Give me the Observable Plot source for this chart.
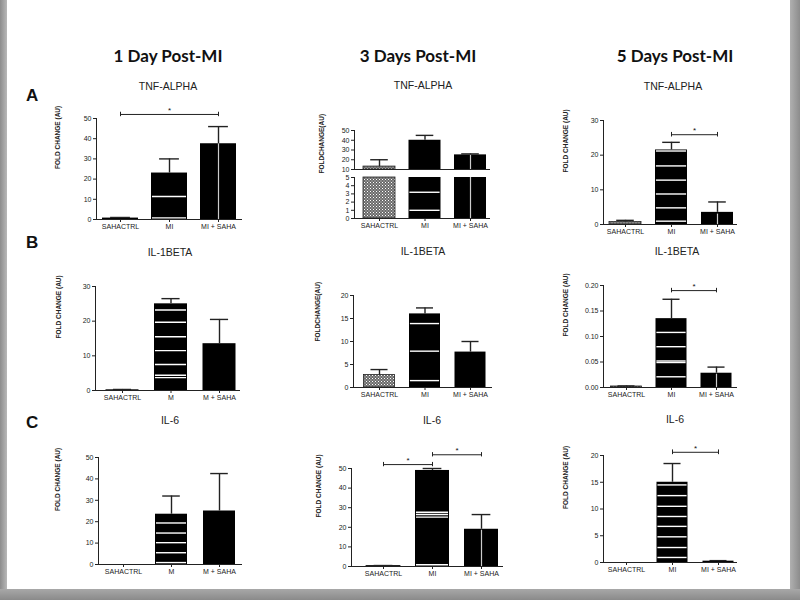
<!DOCTYPE html>
<html><head><meta charset="utf-8">
<script src="https://cdn.jsdelivr.net/npm/d3@7"></script>
<script src="https://cdn.jsdelivr.net/npm/@observablehq/plot@0.6"></script>
<style>
body{margin:0;width:800px;height:600px;position:relative;overflow:hidden;background:#fff;font-family:"Liberation Sans",Arial,sans-serif;}
.abs{position:absolute;white-space:nowrap;}
.head{font-family:Lato,"Open Sans",sans-serif;font-weight:700;font-size:17px;color:#111;transform:translate(-50%,-50%);}
.sub{font-size:10.5px;color:#222;transform:translate(-50%,-50%);}
.letter{font-weight:700;font-size:17px;color:#111;transform:translate(0,-50%);}
g[aria-label="ylab"] text{letter-spacing:1px;}
.edge{position:absolute;background:linear-gradient(90deg,#8c8c8c,#b8b8b8);}
</style></head><body>
<svg width="0" height="0" style="position:absolute"><defs>
<pattern id="hatch" width="3" height="3" patternUnits="userSpaceOnUse">
<rect width="3" height="3" fill="#6a6a6a"/><rect x="0" y="0" width="1" height="1" fill="#fff"/><rect x="1.5" y="1.5" width="1" height="1" fill="#ddd"/>
</pattern></defs></svg>
<div class="edge" style="left:0;top:0;width:7px;height:600px"></div>
<div class="edge" style="left:790px;top:0;width:10px;height:600px;background:linear-gradient(90deg,#b0b0b0,#8c8c8c)"></div>
<div class="edge" style="left:0;top:589px;width:800px;height:11px;background:linear-gradient(180deg,#a8a8a8,#8a8a8a)"></div>
<script>
// ---- Data ----
const categories = ["SAHACTRL", "MI", "MI + SAHA"];
const categoriesM = ["SAHACTRL", "M", "M + SAHA"];
const columnTitles = ["1 Day Post-MI", "3 Days Post-MI", "5 Days Post-MI"];
const rowLetters = ["A", "B", "C"];
const markers = ["TNF-ALPHA", "IL-1BETA", "IL-6"];
const yLabel = "FOLD CHANGE (AU)";
const yLabelShort = "FOLDCHANGE(AU)";

const tnf1Mean = [0.7, 23, 37.5],   tnf1Err = [1.0, 30, 46];
const tnf3Mean = [13, 40, 25],      tnf3Err = [20, 45, 26];
const tnf5Mean = [0.7, 21.5, 3.5],  tnf5Err = [1.2, 23.7, 6.5];
const il1b1Mean = [0.2, 25, 13.5],  il1b1Err = [0.3, 26.5, 20.5];
const il1b3Mean = [2.7, 16, 7.7],   il1b3Err = [3.9, 17.3, 10];
const il1b5Mean = [0.002, 0.135, 0.028], il1b5Err = [0.003, 0.173, 0.04];
const il61Mean = [0, 23.5, 25],     il61Err = [0, 32, 42.5];
const il63Mean = [0.3, 49, 19],     il63Err = [0.5, 50, 26.5];
const il65Mean = [0, 15, 0.25],     il65Err = [0, 18.5, 0.35];

const ticks0to50 = [0, 10, 20, 30, 40, 50];
const ticks0to30 = [0, 10, 20, 30];
const ticks0to20 = [0, 5, 10, 15, 20];
const ticksSmall = [0, 0.05, 0.10, 0.15, 0.20];
const ticksBreakUpper = [10, 20, 30, 40, 50];
const ticksBreakLower = [0, 1, 2, 3, 4, 5];

// significance brackets (from category, to category, bracket level)
const sigTnf1 = [{a: "SAHACTRL", b: "MI + SAHA", level: 52}];
const sigTnf5 = [{a: "MI", b: "MI + SAHA", level: 25.9}];
const sigIl1b5 = [{a: "MI", b: "MI + SAHA", level: 0.19}];
const sigIl63 = [{a: "SAHACTRL", b: "MI", level: 52}, {a: "MI", b: "MI + SAHA", level: 57}];
const sigIl65 = [{a: "MI", b: "MI + SAHA", level: 20.6}];

// white streaks visible inside the bars of the scanned figure
const stripesTnf1 = {"MI": [11.4, 0.8]};
const stripesTnf3Low = {"MI": [3.2, 1.0]};
const stripesTnf5 = {"MI": [0.96, 4.8, 8.8, 12.8, 16.9, 21.2]};
const stripesIl1b1 = {"M": [3.7, 4.4, 7.5, 11.5, 15.5, 19.7, 23.2]};
const stripesIl1b3 = {"MI": [1.5, 7.9, 13.9]};
const stripesIl1b5 = {"MI": [0.021, 0.049, 0.052, 0.080, 0.108]};
const stripesIl61 = {"M": [0.9, 5.5, 10.2, 14.7, 19.4]};
const stripesIl63 = {"MI": [0.9, 25.2, 26.5, 27.7]};
const stripesIl65 = {"MI": [0.94, 2.8, 4.8, 6.75, 8.6, 10.5, 12.5, 14.5]};
const streaksTnf1 = {"MI + SAHA": [0, 37.5]};
const streaksTnf3 = {"MI + SAHA": [0, 25]};
const streaksTnf5 = {"MI + SAHA": [0, 3]};
const streaksIl1b5 = {"MI + SAHA": [0, 0.026]};
const streaksIl63 = {"MI + SAHA": [0, 18.5]};

// ---- Layout (pixel geometry of each panel) ----
const layouts = {
  tnf1:  {axisX: 96,  c0: 120, step: 49,   xEnd: 242, bw: 36, yTop: 118, y0: 219},
  tnf3U: {axisX: 354, c0: 379, step: 45.5, xEnd: 490, bw: 32, yTop: 130, y0: 169},
  tnf3L: {axisX: 354, c0: 379, step: 45.5, xEnd: 490, bw: 32, yTop: 177, y0: 218},
  tnf5:  {axisX: 603, c0: 625, step: 46,   xEnd: 737, bw: 32, yTop: 120, y0: 224},
  il1b1: {axisX: 95,  c0: 122, step: 48.5, xEnd: 240, bw: 33, yTop: 286, y0: 390},
  il1b3: {axisX: 353, c0: 379, step: 45.5, xEnd: 492, bw: 31, yTop: 295, y0: 387},
  il1b5: {axisX: 603, c0: 626, step: 45,   xEnd: 737, bw: 31, yTop: 285, y0: 387},
  il61:  {axisX: 98,  c0: 123, step: 48,   xEnd: 242, bw: 32, yTop: 457, y0: 564},
  il63:  {axisX: 351, c0: 383, step: 49,   xEnd: 503, bw: 34, yTop: 468, y0: 566},
  il65:  {axisX: 603, c0: 626, step: 46,   xEnd: 737, bw: 31, yTop: 455, y0: 562}
};

function makePanel(o) {
  const mL = 50, mR = 8, mT = o.mT ?? 34, mB = o.mB ?? 22;
  const L = o.layout;
  const width = mL + (L.xEnd - L.axisX) + mR, height = mT + (L.y0 - L.yTop) + mB;
  const xDomain = [(L.axisX - L.c0) / L.step, (L.xEnd - L.c0) / L.step];
  const hw = L.bw / 2 / L.step, cw = hw * 0.55;
  const [ylo, yhi] = o.yDomain;
  const idx = c => o.cats.indexOf(c);
  const clip = v => Math.max(ylo, Math.min(yhi, v));
  const data = o.cats.map((c, i) => ({i, v: o.mean[i], hi: o.err[i]}));
  const bars = data.filter(d => d.v > ylo);
  const hatched = o.hatched || [];
  const isH = d => hatched.includes(d.i);
  const stripes = Object.entries(o.stripes || {}).flatMap(([c, vs]) => vs.map(v => ({i: idx(c), v})));
  const streaks = Object.entries(o.streaks || {}).map(([c, r]) => ({i: idx(c), y1: r[0], y2: r[1]}));
  const sig = (o.sig || []).map(s => ({a: idx(s.a), b: idx(s.b), level: s.level}));
  const dd = (yhi - ylo) * 0.022;
  const errs = o.noErr ? [] : data.filter(d => d.hi > d.v);
  const marks = [
    Plot.rectY(bars.filter(d => !isH(d)), {x1: d => d.i - hw, x2: d => d.i + hw, y1: ylo, y2: d => clip(d.v), fill: "#000"}),
    Plot.rectY(bars.filter(isH), {x1: d => d.i - hw, x2: d => d.i + hw, y1: ylo, y2: d => clip(d.v), fill: "url(#hatch)", stroke: "#222", strokeWidth: 0.8}),
    Plot.ruleY(stripes, {y: "v", x1: d => d.i - hw + 0.02, x2: d => d.i + hw - 0.02, stroke: "#fff", strokeWidth: 1.4}),
    Plot.ruleX(streaks, {x: "i", y1: d => clip(d.y1), y2: d => clip(d.y2), stroke: "#ccc", strokeWidth: 1.2}),
    Plot.ruleX(errs, {x: "i", y1: "v", y2: "hi", strokeWidth: 1.4}),
    Plot.ruleY(errs, {y: "hi", x1: d => d.i - cw, x2: d => d.i + cw, strokeWidth: 1.4}),
    Plot.ruleY([ylo]),
    Plot.ruleX([xDomain[0]]),
    Plot.ruleY(sig, {y: "level", x1: "a", x2: "b", strokeWidth: 1}),
    Plot.ruleX(sig.flatMap(s => [{x: s.a, l: s.level}, {x: s.b, l: s.level}]), {x: "x", y1: d => d.l - dd, y2: d => d.l + dd, strokeWidth: 1}),
    Plot.text(sig, {x: d => (d.a + d.b) / 2, y: "level", text: () => "*", dy: -4, fontSize: 8, fill: "#111"})
  ];
  if (o.ylabel) marks.push(Plot.text([o.ylabel], {frameAnchor: o.labelAnchor || "left", rotate: -90, dx: -o.labelDist, dy: o.labelDy || 0, fontWeight: "bold", fontSize: 6.5, fill: "#222", ariaLabel: "ylab"}));
  const showX = o.showX !== false;
  const chart = Plot.plot({
    width, height, marginLeft: mL, marginRight: mR, marginTop: mT, marginBottom: mB,
    style: {fontSize: "7px", fontFamily: '"Liberation Sans", Arial, sans-serif', color: "#222", background: "none", overflow: "visible"},
    x: {domain: xDomain, ticks: [0, 1, 2], tickFormat: i => o.cats[i], tickSize: 3, tickPadding: 1.5, label: null, axis: showX ? "bottom" : null},
    y: {domain: o.yDomain, ticks: o.yTicks, tickFormat: o.yFmt || (d => d), tickSize: 3, tickPadding: 2, label: null},
    marks
  });
  chart.style.position = "absolute";
  chart.style.left = (L.axisX - mL) + "px";
  chart.style.top = (L.yTop - mT) + "px";
  document.body.appendChild(chart);
}

makePanel({layout: layouts.tnf1, cats: categories, mean: tnf1Mean, err: tnf1Err, yDomain: [0, 50], yTicks: ticks0to50, sig: sigTnf1, stripes: stripesTnf1, streaks: streaksTnf1, ylabel: yLabel, labelDist: 39});
makePanel({layout: layouts.tnf3U, cats: categories, mean: tnf3Mean, err: tnf3Err, yDomain: [10, 50], yTicks: ticksBreakUpper, hatched: [0], streaks: streaksTnf3, showX: false, mB: 8, ylabel: yLabelShort, labelDist: 31, labelAnchor: "bottom-left", labelDy: 4});
makePanel({layout: layouts.tnf3L, cats: categories, mean: tnf3Mean.map(v => Math.min(v, 5)), err: tnf3Err, noErr: true, yDomain: [0, 5], yTicks: ticksBreakLower, hatched: [0], stripes: stripesTnf3Low, streaks: streaksTnf3, mT: 4});
makePanel({layout: layouts.tnf5, cats: categories, mean: tnf5Mean, err: tnf5Err, yDomain: [0, 30], yTicks: ticks0to30, hatched: [0], sig: sigTnf5, stripes: stripesTnf5, streaks: streaksTnf5, ylabel: yLabel, labelDist: 38});
makePanel({layout: layouts.il1b1, cats: categoriesM, mean: il1b1Mean, err: il1b1Err, yDomain: [0, 30], yTicks: ticks0to30, stripes: stripesIl1b1, ylabel: yLabel, labelDist: 37});
makePanel({layout: layouts.il1b3, cats: categories, mean: il1b3Mean, err: il1b3Err, yDomain: [0, 20], yTicks: ticks0to20, hatched: [0], stripes: stripesIl1b3, ylabel: yLabelShort, labelDist: 36});
makePanel({layout: layouts.il1b5, cats: categories, mean: il1b5Mean, err: il1b5Err, yDomain: [0, 0.2], yTicks: ticksSmall, yFmt: d3.format(".2f"), hatched: [0], sig: sigIl1b5, stripes: stripesIl1b5, streaks: streaksIl1b5, ylabel: yLabel, labelDist: 38});
makePanel({layout: layouts.il61, cats: categoriesM, mean: il61Mean, err: il61Err, yDomain: [0, 50], yTicks: ticks0to50, stripes: stripesIl61, ylabel: yLabel, labelDist: 41});
makePanel({layout: layouts.il63, cats: categories, mean: il63Mean, err: il63Err, yDomain: [0, 50], yTicks: ticks0to50, hatched: [0], sig: sigIl63, stripes: stripesIl63, streaks: streaksIl63, ylabel: yLabel, labelDist: 33});
makePanel({layout: layouts.il65, cats: categories, mean: il65Mean, err: il65Err, yDomain: [0, 20], yTicks: ticks0to20, sig: sigIl65, stripes: stripesIl65, ylabel: yLabel, labelDist: 38});

// ---- Text labels ----
function addText(cls, text, x, y) {
  const d = document.createElement("div");
  d.className = "abs " + cls;
  d.textContent = text;
  d.style.left = x + "px"; d.style.top = y + "px";
  document.body.appendChild(d);
}
const colX = [168, 418, 675];
columnTitles.forEach((t, i) => addText("head", t, colX[i], 55));
const subPos = [[168, 86], [423, 85], [673, 86], [170, 252], [423, 251], [677, 251], [170, 420], [432, 420], [675, 419]];
subPos.forEach((p, k) => addText("sub", markers[Math.floor(k / 3)], p[0], p[1]));
const letterY = [96, 243, 423];
rowLetters.forEach((t, i) => addText("letter", t, 26, letterY[i]));
</script>
</body></html>
